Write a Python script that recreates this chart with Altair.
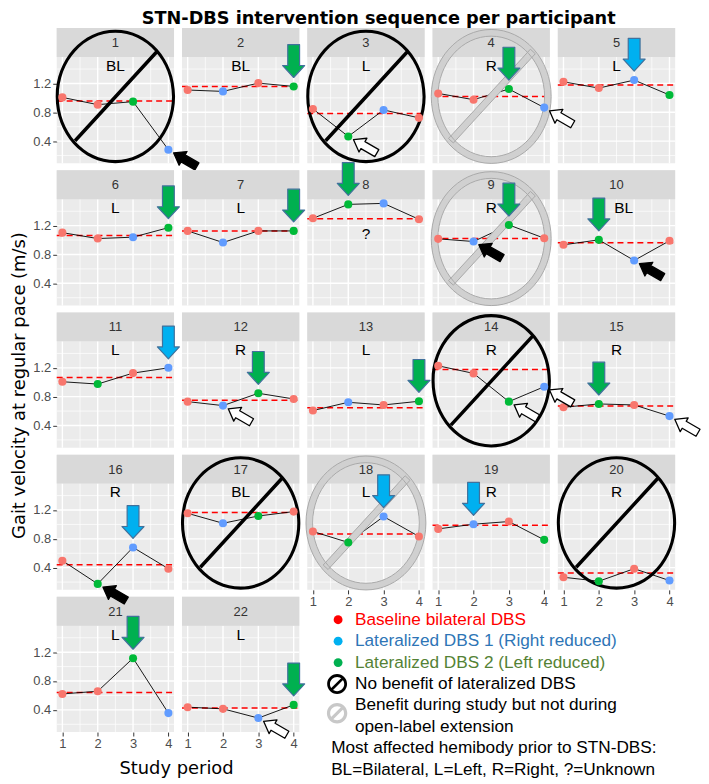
import altair as alt
import pandas as pd

FONT = "Liberation Sans"
GG_FONT = "DejaVu Sans"

TITLE = "STN-DBS intervention sequence per participant"
Y_TITLE = "Gait velocity at regular pace (m/s)"
X_TITLE = "Study period"

PERIODS = [1, 2, 3, 4]
VELOCITY = [
    [1.007, 0.906, 0.948, 0.281],
    [1.109, 1.090, 1.205, 1.159],
    [0.847, 0.465, 0.833, 0.723],
    [1.062, 0.975, 1.123, 0.865],
    [1.223, 1.136, 1.247, 1.040],
    [1.103, 1.021, 1.040, 1.172],
    [1.127, 0.966, 1.127, 1.127],
    [1.302, 1.495, 1.509, 1.288],
    [1.017, 0.980, 1.210, 1.026],
    [0.934, 1.003, 0.717, 0.990],
    [1.007, 0.975, 1.127, 1.200],
    [0.731, 0.676, 0.847, 0.768],
    [0.607, 0.722, 0.685, 0.736],
    [1.228, 1.123, 0.731, 0.938],
    [0.653, 0.699, 0.685, 0.530],
    [0.497, 0.175, 0.681, 0.386],
    [1.154, 1.016, 1.117, 1.178],
    [0.902, 0.750, 1.109, 0.833],
    [0.938, 1.003, 1.040, 0.786],
    [0.267, 0.212, 0.386, 0.221],
    [0.621, 0.658, 1.117, 0.355],
    [0.437, 0.414, 0.286, 0.469],
]
# B = baseline bilateral, 1 = lateralized 1, 2 = lateralized 2 (per period)
CONDITION = ["BB21", "B1B2", "B21B", "BB21", "BB12", "BB12", "B1B2", "B21B",
             "B12B", "B21B", "B2B1", "B12B", "B1B2", "BB21", "B2B1", "B21B",
             "B12B", "B21B", "B1B2", "B2B1", "BB21", "BB12"]
HEMIBODY = ["BL", "BL", "L", "R", "L", "L", "L", "?", "R", "BL", "L",
            "R", "L", "R", "R", "R", "BL", "L", "R", "R", "L", "L"]
NO_BENEFIT = [1, 3, 14, 17, 20]
OPEN_LABEL_LOSS = [4, 9, 18]
# (panel, period, colour) - big downward arrows
DOWN_ARROWS = [(2, 4, "green"), (4, 3, "green"), (5, 3, "blue"), (6, 4, "green"),
               (7, 4, "green"), (8, 2, "green"), (9, 3, "green"), (10, 2, "green"),
               (11, 4, "blue"), (12, 3, "green"), (13, 4, "green"), (15, 2, "green"),
               (16, 3, "blue"), (18, 3, "blue"), (19, 2, "blue"), (21, 3, "green"),
               (22, 4, "green")]
# (panel, period, fill) - small pointer arrows
POINTER_ARROWS = [(1, 4, "black"), (3, 2, "white"), (4, 4, "white"), (9, 2, "black"),
                  (10, 3, "black"), (12, 2, "white"), (14, 3, "white"), (14, 4, "white"),
                  (15, 4, "white"), (16, 2, "black"), (22, 3, "white")]
LABEL_OVERRIDE = {8: (2.5, 1.086), 10: (2.70, 1.445)}

Y_TICKS = [0.4, 0.8, 1.2]
Y_MINOR = [0.2, 0.6, 1.0, 1.4]
X_MINOR = [1.5, 2.5, 3.5]

LEGEND_TEXT = ["Baseline bilateral DBS", "Lateralized DBS 1 (Right reduced)",
               "Lateralized DBS 2 (Left reduced)", "No benefit of lateralized DBS",
               "Benefit during study but not during", "open-label extension",
               "Most affected hemibody prior to STN-DBS:",
               "BL=Bilateral, L=Left, R=Right, ?=Unknown"]
LEGEND_TEXT_COLOR = ["#FF0000", "#2E75B6", "#548235", "black", "black", "black", "black", "black"]
LEGEND_DOT_COLOR = ["#FF0000", "#00B0F0", "#00B050"]

# ---------------- layout / styling ----------------
W, H = 118, 136
COL_GAP, ROW_GAP = 8, 7
XMIN, XMAX = 0.84, 4.16
YMIN, YMAX = 0.092, 1.968
STRIP = 1.568
PXX = W / (XMAX - XMIN)
PXY = H / (YMAX - YMIN)
XS = alt.Scale(domain=[XMIN, XMAX], nice=False, zero=False)
YS = alt.Scale(domain=[YMIN, YMAX], nice=False, zero=False)


def f(v):
    return f"{v:.4f}".rstrip("0").rstrip(".")


def ellipse_path(rx, ry, ccw=False):
    k = 0.5523
    if not ccw:
        pts = [(0, -ry), (k * rx, -ry), (rx, -k * ry), (rx, 0), (rx, k * ry), (k * rx, ry), (0, ry),
               (-k * rx, ry), (-rx, k * ry), (-rx, 0), (-rx, -k * ry), (-k * rx, -ry), (0, -ry)]
    else:
        pts = [(0, -ry), (-k * rx, -ry), (-rx, -k * ry), (-rx, 0), (-rx, k * ry), (-k * rx, ry), (0, ry),
               (k * rx, ry), (rx, k * ry), (rx, 0), (rx, -k * ry), (k * rx, -ry), (0, -ry)]
    s = f"M{f(pts[0][0])},{f(pts[0][1])}"
    for j in range(4):
        a, b, c = pts[1 + 3 * j], pts[2 + 3 * j], pts[3 + 3 * j]
        s += f"C{f(a[0])},{f(a[1])} {f(b[0])},{f(b[1])} {f(c[0])},{f(c[1])}"
    return s + "Z"


def no_sign_path(rx, ry, t, a=(-0.605, 0.665), b=(0.625, -0.675), ts=None):
    """filled ring (outer cw, inner ccw) with a filled diagonal bar"""
    ts = t if ts is None else ts
    s = ellipse_path(rx + t / 2, ry + t / 2) + ellipse_path(rx - t / 2, ry - t / 2, ccw=True)
    dx, dy = b[0] - a[0], b[1] - a[1]
    ln = (dx * dx + dy * dy) ** 0.5
    nx, ny = -dy / ln * ts / 2, dx / ln * ts / 2
    q = [(a[0] - nx, a[1] - ny), (b[0] - nx, b[1] - ny), (b[0] + nx, b[1] + ny), (a[0] + nx, a[1] + ny)]
    s += "M" + "L".join(f"{f(x)},{f(y)}" for x, y in q) + "Z"
    return s


ELL_SIZE = 134 ** 2          # unit = 67 px
BLACK_NO = no_sign_path(0.873, 0.978, 0.046, ts=0.052)
GRAY_NO = no_sign_path(0.85, 0.955, 0.10, ts=0.10)
ICON_BLACK = no_sign_path(0.86, 0.86, 0.28, a=(-0.6, 0.6), b=(0.6, -0.6), ts=0.26)
ICON_GRAY = no_sign_path(0.84, 0.84, 0.32, a=(-0.58, 0.58), b=(0.58, -0.58), ts=0.30)
DOWN = "M-0.36,-1L0.36,-1L0.36,0.27L0.67,0.27L0,1L-0.67,0.27L-0.36,0.27Z"
POINTER = "M0,-1L0.59,-0.19L0.30,-0.19L0.30,1L-0.30,1L-0.30,-0.19L-0.59,-0.19Z"
ARROW_FILL = {"green": "#00B050", "blue": "#00B0F0", "black": "black", "white": "white"}

AX = dict(tickSize=4, tickColor="#333333", tickWidth=1, labelColor="#4D4D4D",
          labelFontSize=13, labelFont=FONT, labelPadding=2, domain=False, grid=False,
          titleFont=GG_FONT, titleFontSize=18, titleFontWeight="normal", titleColor="black")


def px(x):
    return (x - XMIN) * PXX


def py(y):
    return (YMAX - y) * PXY


# place pointer arrows; those spilling into a neighbour are drawn by that neighbour
pointer_rows = []
for p, k, kind in POINTER_ARROWS:
    x, y = PERIODS[k - 1], VELOCITY[p - 1][k - 1]
    host, hx, hy = p, x, y
    col = (p - 1) % 5
    if px(x) + 31 > W + 2 and col < 4 and p + 1 <= 22:
        host, hx = p + 1, x - (W + COL_GAP) / PXX
    elif py(y) + 22 > H + 3 and p + 5 <= 22:
        host, hy = p + 5, y + (H + ROW_GAP) / PXY
    pointer_rows.append(dict(host=host, x=hx, y=hy, fill=ARROW_FILL[kind]))
pointer_df = pd.DataFrame(pointer_rows)

down_df = pd.DataFrame([dict(host=p, x=PERIODS[k - 1], y=VELOCITY[p - 1][k - 1],
                             fill=ARROW_FILL[c]) for p, k, c in DOWN_ARROWS])

vgrid = pd.DataFrame({"x": PERIODS + X_MINOR,
                      "w": ["major"] * len(PERIODS) + ["minor"] * len(X_MINOR),
                      "y0": YMIN, "y1": STRIP})
hgrid = pd.DataFrame({"y": Y_TICKS + Y_MINOR,
                      "w": ["major"] * len(Y_TICKS) + ["minor"] * len(Y_MINOR),
                      "x0": XMIN, "x1": XMAX})
strip_df = pd.DataFrame({"x0": [XMIN], "x1": [XMAX], "y0": [STRIP], "y1": [YMAX]})
gw = alt.Size("w:N", scale=alt.Scale(domain=["major", "minor"], range=[1.4, 0.7]), legend=None)


def panel(p):
    i = p - 1
    col = i % 5
    left = col == 0
    bottom = p + 5 > 22
    pts = pd.DataFrame({"period": PERIODS, "vel": VELOCITY[i], "cond": list(CONDITION[i])})

    yaxis = alt.Axis(values=Y_TICKS, format=".1f", titleY=73, titlePadding=4, **AX) if left else None
    xaxis = alt.Axis(values=PERIODS, format="d", titleX=120, titlePadding=9, **AX) if bottom else None
    xt = X_TITLE if p == 21 else None
    yt = Y_TITLE if p == 11 else None

    def X(field):
        return alt.X(f"{field}:Q", scale=XS, axis=xaxis, title=xt)

    def Y(field):
        return alt.Y(f"{field}:Q", scale=YS, axis=yaxis, title=yt)

    layers = [
        alt.Chart(vgrid).mark_rule(color="white").encode(
            x=X("x"), y=Y("y0"), y2="y1:Q", size=gw),
        alt.Chart(hgrid).mark_rule(color="white").encode(
            y=Y("y"), x=X("x0"), x2="x1:Q", size=gw),
        alt.Chart(strip_df).mark_rect(color="#D9D9D9").encode(
            x=X("x0"), x2="x1:Q", y=Y("y0"), y2="y1:Q"),
        alt.Chart(pd.DataFrame({"x": [2.5], "y": [1.76], "t": [str(p)]})).mark_text(
            font=FONT, fontSize=13, color="#333333", baseline="middle").encode(
            x=X("x"), y=Y("y"), text="t:N"),
        alt.Chart(pts).transform_filter("datum.cond == 'B'").transform_aggregate(
            m="mean(vel)").transform_calculate(x0=str(XMIN), x1=str(XMAX)).mark_rule(
            color="#FF0000", strokeWidth=1.5, strokeDash=[6, 4]).encode(
            x=X("x0"), x2="x1:Q", y=Y("m")),
        alt.Chart(pts).mark_line(color="black", strokeWidth=0.9).encode(
            x=X("period"), y=Y("vel"), order="period:Q"),
    ]
    ell = pd.DataFrame({"x": [2.5], "y": [1.02]})
    if p in NO_BENEFIT:
        layers.append(alt.Chart(ell).mark_point(
            shape=BLACK_NO, size=ELL_SIZE, filled=True, color="black", strokeWidth=0,
            opacity=1).encode(x=X("x"), y=Y("y")))
    if p in OPEN_LABEL_LOSS:
        layers.append(alt.Chart(ell).mark_point(
            shape=GRAY_NO, size=ELL_SIZE, filled=True, color="#D0D0D0", stroke="#A9A9A9",
            strokeWidth=1, strokeJoin="round", opacity=1).encode(x=X("x"), y=Y("y")))

    layers.append(alt.Chart(pts).mark_circle(size=66, opacity=1).encode(
        x=X("period"), y=Y("vel"),
        color=alt.Color("cond:N", scale=alt.Scale(domain=["B", "1", "2"],
                                                  range=["#F8766D", "#619CFF", "#00BA38"]),
                        legend=None)))

    d = down_df[down_df.host == p]
    if len(d):
        layers.append(alt.Chart(d).mark_point(
            shape=DOWN, size=1089, filled=True, stroke="#41719C", strokeWidth=1.2,
            strokeJoin="round", opacity=1, yOffset=-25.5).encode(
            x=X("x"), y=Y("y"), fill=alt.Fill("fill:N", scale=None)))
    a = pointer_df[pointer_df.host == p]
    if len(a):
        layers.append(alt.Chart(a).mark_point(
            shape=POINTER, size=729, filled=True, stroke="black", strokeWidth=1.3,
            strokeJoin="round", opacity=1, angle=300, xOffset=17, yOffset=10).encode(
            x=X("x"), y=Y("y"), fill=alt.Fill("fill:N", scale=None)))

    lx, ly = LABEL_OVERRIDE.get(p, (2.5, 1.445))
    layers.append(alt.Chart(pd.DataFrame({"x": [lx], "y": [ly], "t": [HEMIBODY[i]]})).mark_text(
        font=FONT, fontSize=15.5, color="black", baseline="middle").encode(
        x=X("x"), y=Y("y"), text="t:N"))

    return alt.layer(*layers).properties(
        width=W, height=H, view=alt.ViewBackground(fill="#EBEBEB", strokeWidth=0))


# ---------------- legend cell ----------------
ly_scale = alt.Scale(domain=[0, 7], range=[23, 174])
leg_text = pd.DataFrame({"i": list(range(8)), "t": LEGEND_TEXT, "c": LEGEND_TEXT_COLOR,
                         "x": [48] * 6 + [24] * 2})
leg_dots = pd.DataFrame({"i": [0, 1, 2], "c": LEGEND_DOT_COLOR})

legend = alt.layer(
    alt.Chart(leg_dots).mark_circle(size=80, opacity=1).encode(
        x=alt.value(31), y=alt.Y("i:Q", scale=ly_scale, axis=None),
        color=alt.Color("c:N", scale=None)),
    alt.Chart(pd.DataFrame({"i": [3]})).mark_point(
        shape=ICON_BLACK, size=400, filled=True, color="black", strokeWidth=0, opacity=1).encode(
        x=alt.value(30), y=alt.Y("i:Q", scale=ly_scale, axis=None)),
    alt.Chart(pd.DataFrame({"i": [4.36]})).mark_point(
        shape=ICON_GRAY, size=420, filled=True, color="#C8C8C8", strokeWidth=0, opacity=1).encode(
        x=alt.value(30), y=alt.Y("i:Q", scale=ly_scale, axis=None)),
    alt.Chart(leg_text).mark_text(font=FONT, fontSize=17.3, align="left", baseline="middle").encode(
        x=alt.X("x:Q", scale=None, axis=None), y=alt.Y("i:Q", scale=ly_scale, axis=None),
        text="t:N", color=alt.Color("c:N", scale=None)),
).properties(width=W, height=H, view=alt.ViewBackground(strokeWidth=0))

cells = [panel(p) for p in range(1, 23)] + [legend]

chart = alt.concat(*cells, columns=5, spacing={"row": ROW_GAP, "column": COL_GAP},
                   bounds="flush").properties(
    title=alt.TitleParams(TITLE, font=GG_FONT, fontSize=17.8, fontWeight="bold",
                          color="black", anchor="middle", offset=0, dx=23),
    padding={"left": 2, "top": 0, "right": 0, "bottom": 0},
    background="white",
).configure_view(strokeWidth=0)

chart.save("out.html", embed_options={"renderer": "svg", "actions": False})
